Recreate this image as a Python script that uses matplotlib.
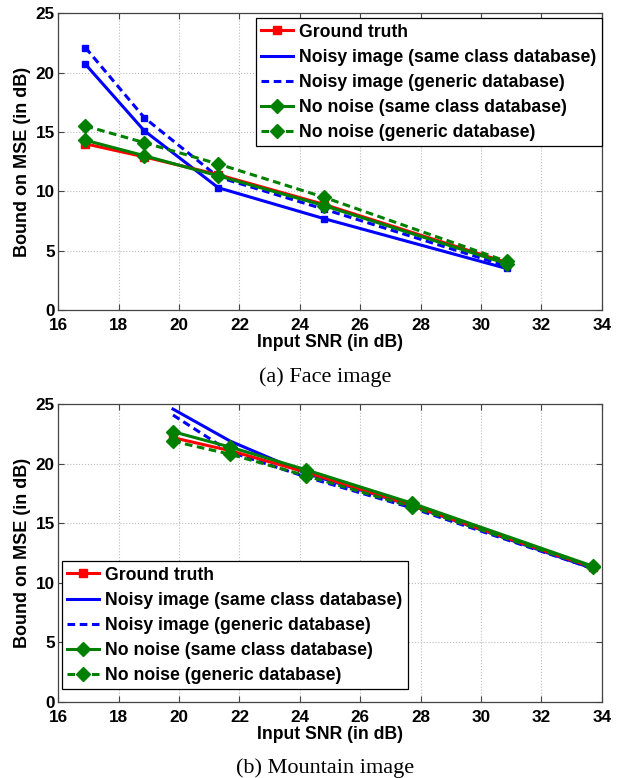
import matplotlib
matplotlib.use("Agg")
import matplotlib.pyplot as plt
from matplotlib.lines import Line2D

# ---------------- data ----------------
labels = ["Ground truth",
          "Noisy image (same class database)",
          "Noisy image (generic database)",
          "No noise (same class database)",
          "No noise (generic database)"]

face_snr = [16.9, 18.85, 21.3, 24.8, 30.85]
face_gt = [14.0, 12.9, 11.4, 8.9, 4.0]
face_noisy_same = [20.7, 15.1, 10.3, 7.7, 3.5]
face_noisy_gen = [22.1, 16.2, 11.2, 8.5, 3.7]
face_clean_same = [14.3, 13.0, 11.3, 8.8, 3.9]
face_clean_gen = [15.5, 14.1, 12.3, 9.5, 4.1]

mtn_snr = [19.8, 21.7, 24.2, 27.7, 33.7]
mtn_gt = [22.2, 21.1, 19.3, 16.5, 11.3]
mtn_noisy_same = [24.6, 21.9, 19.2, 16.5, 11.2]
mtn_noisy_gen = [24.1, 21.0, 18.9, 16.3, 11.2]
mtn_clean_same = [22.7, 21.4, 19.5, 16.7, 11.4]
mtn_clean_gen = [21.9, 20.8, 19.0, 16.4, 11.3]

xticks = [16, 18, 20, 22, 24, 26, 28, 30, 32, 34]
yticks = [0, 5, 10, 15, 20, 25]

RED = "#ff0000"
BLUE = "#0000ff"
GREEN = "#008000"
DASH = (0, (2.5, 1.5))
SANS = ["Liberation Sans", "DejaVu Sans"]
SERIF = ["Liberation Serif", "DejaVu Serif"]

fig = plt.figure(figsize=(6.22, 7.78), dpi=100)

def style_axes(ax):
    ax.set_xlim(16, 34)
    ax.set_ylim(0, 25)
    ax.set_xticks(xticks)
    ax.set_yticks(yticks)
    ax.grid(True, linestyle=":", color="#bbbbbb", linewidth=0.8)
    ax.tick_params(direction="in", top=True, right=True, length=4,
                   width=0.8, color="#444444", labelsize=12.3)
    ax.tick_params(axis="x", pad=6)
    ax.tick_params(axis="y", pad=2.5)
    for lab in ax.get_xticklabels() + ax.get_yticklabels():
        lab.set_fontfamily(SANS)
        lab.set_fontweight("bold")
    for sp in ax.spines.values():
        sp.set_color("#444444")
        sp.set_linewidth(0.9)
    ax.set_xlabel("Input SNR (in dB)", fontsize=12.7, fontweight="bold",
                  family=SANS, labelpad=0.5)
    ax.set_ylabel("Bound on MSE (in dB)", fontsize=13, fontweight="bold",
                  family=SANS, labelpad=3)

def handles():
    return [
        Line2D([], [], color=RED, lw=2.2, marker="s", ms=6),
        Line2D([], [], color=BLUE, lw=2.2),
        Line2D([], [], color=BLUE, lw=2.2, ls=DASH),
        Line2D([], [], color=GREEN, lw=2.2, marker="D", ms=7),
        Line2D([], [], color=GREEN, lw=2.2, ls=DASH, marker="D", ms=7),
    ]

def draw(ax, x, gt, ns, ng, cs, cg, blue_markers):
    bm = "s" if blue_markers else None
    ax.plot(x, ns, color=BLUE, lw=2.2, marker=bm, ms=5)
    ax.plot(x, ng, color=BLUE, lw=2.2, ls=DASH, marker=bm, ms=5)
    ax.plot(x, gt, color=RED, lw=2.2, marker="s", ms=6)
    ax.plot(x, cs, color=GREEN, lw=2.2, marker="D", ms=7)
    ax.plot(x, cg, color=GREEN, lw=2.2, ls=DASH, marker="D", ms=7)

leg_kw = dict(prop={"family": SANS, "weight": "bold", "size": 12.7},
              fancybox=False, framealpha=1, edgecolor="black",
              handlelength=1.8, handletextpad=0.34, labelspacing=0.46,
              borderpad=0.3, borderaxespad=0)

# ---- (a) Face image ----
ax1 = fig.add_axes([0.0937, 0.6015, 0.8737, 0.3815])
draw(ax1, face_snr, face_gt, face_noisy_same, face_noisy_gen,
     face_clean_same, face_clean_gen, True)
style_axes(ax1)
lg1 = ax1.legend(handles(), labels, loc="upper right",
                 bbox_to_anchor=(1.0, 0.983), **leg_kw)
lg1.get_frame().set_linewidth(0.9)
fig.text(0.5225, 1 - 377 / 778, "(a) Face image", family=SERIF, fontsize=16,
         ha="center", va="center")

# ---- (b) Mountain image ----
ax2 = fig.add_axes([0.0937, 0.098, 0.8737, 0.3823])
draw(ax2, mtn_snr, mtn_gt, mtn_noisy_same, mtn_noisy_gen,
     mtn_clean_same, mtn_clean_gen, False)
style_axes(ax2)
lg2 = ax2.legend(handles(), labels, loc="lower left",
                 bbox_to_anchor=(0.0068, 0.0417), **leg_kw)
lg2.get_frame().set_linewidth(0.9)
fig.text(0.5225, 1 - 768 / 778, "(b) Mountain image", family=SERIF, fontsize=16,
         ha="center", va="center")

fig.savefig("out.png", dpi=100)
